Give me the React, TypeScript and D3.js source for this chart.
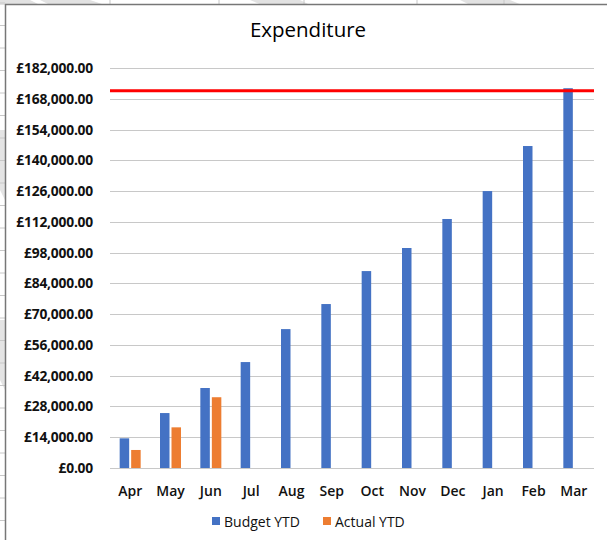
import React from "react";
import * as d3 from "d3";

const months = ["Apr","May","Jun","Jul","Aug","Sep","Oct","Nov","Dec","Jan","Feb","Mar"];
const budgetYTD = [13500,25000,36400,48200,63200,74600,89600,100100,113300,126000,146500,172800];
const actualYTD = [8200,18500,32200,null,null,null,null,null,null,null,null,null];
const totalBudget = 171700;
const yTicks = d3.range(0, 182001, 14000);
const seriesNames = ["Budget YTD","Actual YTD"];
const colors = ["#4472C4","#ED7D31"];

export default function App() {
  const W = 607, H = 540;
  const x = d3.scaleBand().domain(months).range([110, 594]).paddingInner(0).paddingOuter(0);
  const y = d3.scaleLinear().domain([0, 182000]).range([468, 68]);
  const fmt = (v: number) => "£" + d3.format(",.2f")(v);
  const bw = 9.5;
  const font = "'Open Sans', 'Noto Sans', sans-serif";
  const bgCols = [110, 219, 304, 417, 504];
  const bgRows = d3.range(3, 540, 22.5);
  return (
    <svg width={W} height={H} style={{position:"absolute", left:0, top:0}} fontFamily={font}>
      <rect x={0} y={0} width={W} height={H} fill="#fff" />
      {/* spreadsheet background */}
      <polygon points="0,0 30,0 40,5 0,5" fill="#e2e2e2" />
      <polygon points="40,0 90,0 105,5 50,5" fill="#e2e2e2" />
      <polygon points="250,0 300,0 310,5 262,5" fill="#e2e2e2" />
      <polygon points="460,0 510,0 522,5 470,5" fill="#e2e2e2" />
      <polygon points="0,130 5,130 5,200 0,190" fill="#e4e4e4" />
      <polygon points="0,320 5,320 5,390 0,380" fill="#e4e4e4" />
      {bgCols.map(c => <line key={c} x1={c} x2={c} y1={0} y2={5} stroke="#c8c8c8" />)}
      {bgRows.map(r => <line key={r} x1={0} x2={5} y1={r} y2={r} stroke="#c8c8c8" />)}
      <rect x={5} y={5} width={W} height={H} fill="#fff" />
      <line x1={5.5} x2={5.5} y1={4} y2={H} stroke="#777" strokeWidth={1.5} />
      <line x1={5} x2={W} y1={4.5} y2={4.5} stroke="#777" strokeWidth={1.5} />
      <text x={308} y={37} textAnchor="middle" fontSize={20.5} fontWeight={500} fill="#000">Expenditure</text>
      {yTicks.map(t => (
        <g key={t}>
          <line x1={110} x2={594} y1={Math.round(y(t)) + 0.5} y2={Math.round(y(t)) + 0.5} stroke="#c8c8c8" strokeWidth={1} />
          <text x={93} y={y(t) + 5} textAnchor="end" fontSize={13.8} fontWeight={700} fill="#111" letterSpacing={-0.2}>{fmt(t)}</text>
        </g>
      ))}
      {months.map((m, i) => {
        const cx = (x(m) as number) + x.bandwidth() / 2;
        const b = budgetYTD[i];
        const a = actualYTD[i];
        return (
          <g key={m}>
            <rect x={cx - 1 - bw} y={y(b)} width={bw} height={y(0) - y(b)} fill={colors[0]} />
            {a != null && <rect x={cx + 1} y={y(a)} width={bw} height={y(0) - y(a)} fill={colors[1]} />}
            <text x={cx} y={496} textAnchor="middle" fontSize={14} fontWeight={600} fill="#111">{m}</text>
          </g>
        );
      })}
      <line x1={110} x2={594} y1={y(totalBudget)} y2={y(totalBudget)} stroke="#FF0000" strokeWidth={3} />
      {seriesNames.map((s, i) => {
        const lx = i === 0 ? 212 : 323;
        return (
          <g key={s}>
            <rect x={lx} y={517} width={8} height={8} fill={colors[i]} />
            <text x={lx + 12} y={527} fontSize={14} fill="#111">{s}</text>
          </g>
        );
      })}
    </svg>
  );
}
